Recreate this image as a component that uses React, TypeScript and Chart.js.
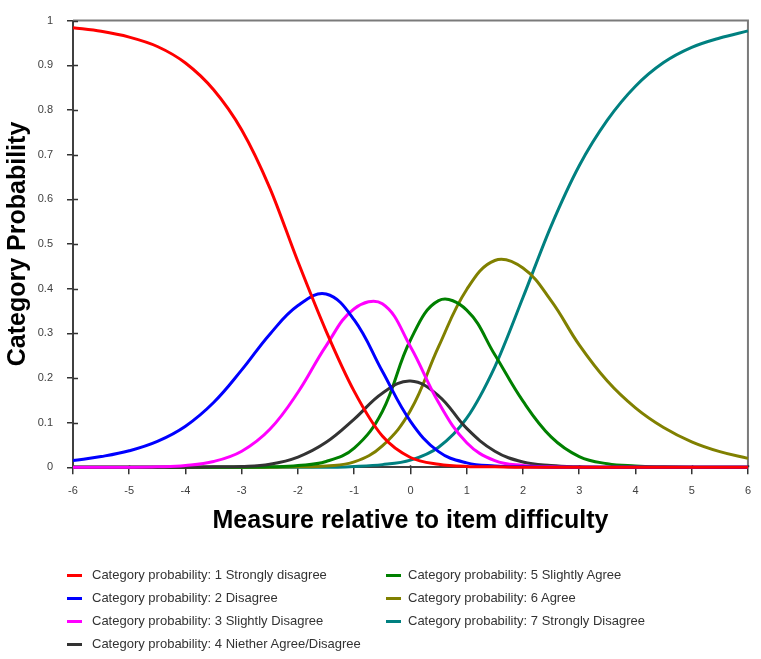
import React, { useEffect, useRef } from "react";
import { Chart, registerables } from "chart.js";

Chart.register(...registerables);

const FONT = '"Liberation Sans", Arial, Helvetica, sans-serif';

// Measure values (logits) at which each curve was read
const X_VALUES = [-6, -5.5, -5, -4.5, -4, -3.5, -3, -2.5, -2, -1.5, -1, -0.5, 0, 0.5, 1, 1.5, 2, 2.5, 3, 3.5, 4, 4.5, 5, 5.5, 6];

const CAT1 = [0.984, 0.976, 0.963, 0.942, 0.905, 0.845, 0.755, 0.625, 0.46, 0.305, 0.17, 0.07, 0.022, 0.007, 0.002, 0.001, 0, 0, 0, 0, 0, 0, 0, 0, 0];
const CAT2 = [0.015, 0.024, 0.037, 0.058, 0.092, 0.145, 0.218, 0.298, 0.362, 0.388, 0.33, 0.215, 0.103, 0.035, 0.01, 0.003, 0.001, 0, 0, 0, 0, 0, 0, 0, 0];
const CAT3 = [0, 0, 0, 0.001, 0.004, 0.013, 0.036, 0.085, 0.168, 0.272, 0.355, 0.366, 0.27, 0.145, 0.055, 0.015, 0.004, 0.001, 0, 0, 0, 0, 0, 0, 0];
const CAT4 = [0, 0, 0, 0, 0, 0.001, 0.002, 0.007, 0.023, 0.056, 0.108, 0.166, 0.193, 0.16, 0.087, 0.036, 0.012, 0.004, 0.001, 0, 0, 0, 0, 0, 0];
const CAT5 = [0, 0, 0, 0, 0, 0, 0, 0.001, 0.004, 0.013, 0.043, 0.125, 0.285, 0.373, 0.352, 0.252, 0.148, 0.068, 0.024, 0.008, 0.003, 0.001, 0, 0, 0];
const CAT6 = [0, 0, 0, 0, 0, 0, 0, 0, 0.001, 0.003, 0.012, 0.048, 0.127, 0.27, 0.398, 0.463, 0.446, 0.373, 0.274, 0.193, 0.133, 0.089, 0.057, 0.035, 0.02];
const CAT7 = [0, 0, 0, 0, 0, 0, 0, 0, 0, 0, 0.002, 0.006, 0.016, 0.045, 0.11, 0.225, 0.38, 0.54, 0.675, 0.777, 0.853, 0.906, 0.94, 0.961, 0.977];

const SERIES = [CAT1, CAT2, CAT3, CAT4, CAT5, CAT6, CAT7];
const SERIES_LABELS = [
  "Category probability: 1 Strongly disagree",
  "Category probability: 2 Disagree",
  "Category probability: 3 Slightly Disagree",
  "Category probability: 4 Niether Agree/Disagree",
  "Category probability: 5 Slightly Agree",
  "Category probability: 6 Agree",
  "Category probability: 7 Strongly Disagree",
];
const SERIES_COLORS = ["#ff0000", "#0000ff", "#ff00ff", "#333333", "#008000", "#808000", "#008080"];
// the outer categories rise/fall monotonically, the middle ones peak
const SERIES_MONOTONE = [true, false, false, false, false, false, true];

const X_TICKS = [-6, -5, -4, -3, -2, -1, 0, 1, 2, 3, 4, 5, 6];
const X_TICK_LABELS = ["-6", "-5", "-4", "-3", "-2", "-1", "0", "1", "2", "3", "4", "5", "6"];
const Y_TICKS = [0, 0.1, 0.2, 0.3, 0.4, 0.5, 0.6, 0.7, 0.8, 0.9, 1];
const Y_TICK_LABELS = ["0", "0.1", "0.2", "0.3", "0.4", "0.5", "0.6", "0.7", "0.8", "0.9", "1"];

const X_TITLE = "Measure relative to item difficulty";
const Y_TITLE = "Category Probability";

const W = 761;
const H = 659;
const PLOT_LEFT = 73;
const PLOT_RIGHT = 750;
const PLOT_TOP = 14.5;
const PLOT_BOTTOM = 467.3;

const framePlugin = {
  id: "frame",
  beforeDatasetsDraw(chart: any) {
    const { ctx, chartArea, scales } = chart;
    ctx.save();
    ctx.strokeStyle = "#7a7a7a";
    ctx.lineWidth = 2;
    ctx.beginPath();
    ctx.moveTo(chartArea.left, chartArea.top);
    ctx.lineTo(chartArea.right, chartArea.top);
    ctx.lineTo(chartArea.right, chartArea.bottom);
    ctx.stroke();
    ctx.strokeStyle = "#333333";
    ctx.lineWidth = 1.5;
    ctx.beginPath();
    for (const v of Y_TICKS) {
      const y = Math.round(scales.y.getPixelForValue(v)) + 0.5;
      ctx.moveTo(chartArea.left, y);
      ctx.lineTo(chartArea.left + 5, y);
    }
    for (const v of X_TICKS) {
      const x = Math.round(scales.x.getPixelForValue(v)) + 0.5;
      ctx.moveTo(x, chartArea.bottom);
      ctx.lineTo(x, chartArea.bottom - 2);
    }
    ctx.stroke();
    ctx.restore();
  },
};

function Legend() {
  const col1 = [0, 1, 2, 3];
  const col2 = [4, 5, 6];
  const rowY = [575, 598, 621, 644];
  const item = (i: number, row: number, mx: number, tx: number) => (
    <div key={i}>
      <div
        style={{
          position: "absolute",
          left: mx,
          top: rowY[row] - 1.5,
          width: 15,
          height: 3,
          background: SERIES_COLORS[i],
        }}
      />
      <div
        style={{
          position: "absolute",
          left: tx,
          top: rowY[row] - 9,
          height: 18,
          lineHeight: "18px",
          fontFamily: FONT,
          fontSize: 13,
          color: "#333333",
          whiteSpace: "nowrap",
        }}
      >
        {SERIES_LABELS[i]}
      </div>
    </div>
  );
  return (
    <>
      {col1.map((i, r) => item(i, r, 67, 92))}
      {col2.map((i, r) => item(i, r, 386, 408))}
    </>
  );
}

export default function App() {
  const canvasRef = useRef<HTMLCanvasElement | null>(null);

  useEffect(() => {
    const canvas = canvasRef.current;
    if (!canvas) return;
    const datasets = SERIES.map((vals, i) => ({
      label: SERIES_LABELS[i],
      data: X_VALUES.map((x, j) => ({ x, y: vals[j] })),
      borderColor: SERIES_COLORS[i],
      backgroundColor: SERIES_COLORS[i],
      borderWidth: 3,
      pointRadius: 0,
      tension: 0.4,
      cubicInterpolationMode: SERIES_MONOTONE[i] ? "monotone" : "default",
      fill: false,
      clip: 4,
    }));
    const chart = new Chart(canvas, {
      type: "line",
      data: { datasets },
      plugins: [framePlugin],
      options: {
        animation: false,
        responsive: false,
        devicePixelRatio: 1,
        layout: { padding: { left: 0, right: W - PLOT_RIGHT, top: PLOT_TOP, bottom: 0 } },
        plugins: {
          legend: { display: false },
          tooltip: { enabled: false },
        },
        scales: {
          x: {
            type: "linear",
            min: -6,
            max: 6,
            afterBuildTicks: (scale: any) => {
              scale.ticks = X_TICKS.map((v) => ({ value: v }));
            },
            afterFit: (scale: any) => {
              scale.height = H - PLOT_BOTTOM;
            },
            ticks: {
              autoSkip: false,
              maxRotation: 0,
              padding: 10,
              color: "#404040",
              font: { family: FONT, size: 11 },
              callback: (_v: any, i: number) => X_TICK_LABELS[i],
            },
            grid: {
              display: true,
              drawOnChartArea: false,
              drawTicks: true,
              tickLength: 7,
              color: "#333333",
              lineWidth: 1.5,
            },
            border: { display: true, color: "#404040", width: 2 },
            title: {
              display: true,
              text: X_TITLE,
              color: "#000000",
              font: { family: FONT, size: 25, weight: "bold" },
              padding: { top: 0, bottom: 123 },
            },
          },
          y: {
            type: "linear",
            min: 0,
            max: 1,
            afterBuildTicks: (scale: any) => {
              scale.ticks = Y_TICKS.map((v) => ({ value: v }));
            },
            afterFit: (scale: any) => {
              scale.width = PLOT_LEFT;
            },
            ticks: {
              autoSkip: false,
              padding: 14,
              color: "#404040",
              font: { family: FONT, size: 11 },
              callback: (_v: any, i: number) => Y_TICK_LABELS[i],
            },
            grid: {
              display: true,
              drawOnChartArea: false,
              drawTicks: true,
              tickLength: 6,
              color: "#333333",
              lineWidth: 1.5,
            },
            border: { display: true, color: "#404040", width: 2 },
            title: {
              display: true,
              text: Y_TITLE,
              color: "#000000",
              font: { family: FONT, size: 25, weight: "bold" },
              padding: { top: 3, bottom: 0 },
            },
          },
        },
      } as any,
    });
    return () => chart.destroy();
  }, []);

  return (
    <div style={{ position: "fixed", left: 0, top: 0, width: W, height: H, background: "#ffffff" }}>
      <canvas ref={canvasRef} width={W} height={H} style={{ position: "absolute", left: 0, top: 0, width: W, height: H }} />
      <Legend />
    </div>
  );
}
